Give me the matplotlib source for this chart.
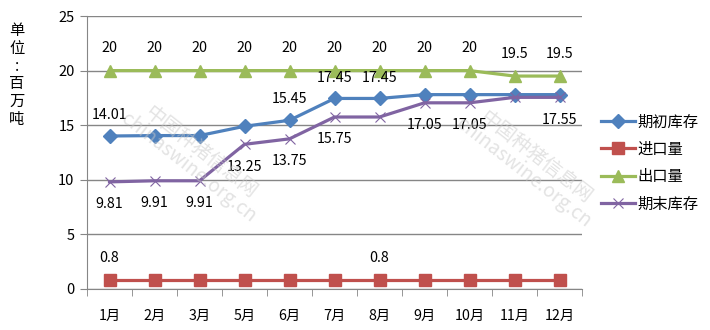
import numpy as np
import matplotlib.pyplot as plt
from matplotlib.ticker import FixedLocator

plt.rcParams['font.family'] = ['Noto Sans CJK SC', 'DejaVu Sans']

months = ['1月', '2月', '3月', '5月', '6月', '7月', '8月', '9月', '10月', '11月', '12月']
opening = [14.01, 14.05, 14.05, 14.9, 15.45, 17.45, 17.45, 17.8, 17.8, 17.8, 17.8]
imports = [0.8] * 11
exports = [20, 20, 20, 20, 20, 20, 20, 20, 20, 19.5, 19.5]
closing = [9.81, 9.91, 9.91, 13.25, 13.75, 15.75, 15.75, 17.05, 17.05, 17.55, 17.55]

# which points carry a value label
opening_lbl = [0, 4, 5, 6]
imports_lbl = [0, 6]
exports_lbl = list(range(11))
closing_lbl = [0, 1, 2, 3, 4, 5, 7, 8, 10]

fig = plt.figure(figsize=(7.1, 3.3), dpi=100)
ax = fig.add_axes([87 / 710, 41 / 330, 495 / 710, 273 / 330])

x = np.arange(len(months))
l1, = ax.plot(x, opening, color='#4F81BD', lw=2.3, marker='D', ms=7, label='期初库存', zorder=4)
l2, = ax.plot(x, imports, color='#C0504D', lw=2.3, marker='s', ms=8.5, label='进口量', zorder=4)
l3, = ax.plot(x, exports, color='#9BBB59', lw=2.3, marker='^', ms=8.5, label='出口量', zorder=4)
l4, = ax.plot(x, closing, color='#8064A2', lw=2.3, marker='x', ms=7, mew=0.8,
              mec='#8064A2', label='期末库存', zorder=4)


def label(vals, idx, dy):
    for i in idx:
        ax.annotate(f'{vals[i]:g}', (x[i], vals[i]), xytext=(0, dy), textcoords='offset points',
                    ha='center', va='center', fontsize=10.3, color='black', zorder=5)


label(opening, opening_lbl, 15)
label(imports, imports_lbl, 16)
label(exports, exports_lbl, 16)
label(closing, closing_lbl, -16)

ax.set_xlim(-0.5, len(months) - 0.5)
ax.set_ylim(0, 25)
ax.set_yticks(range(0, 26, 5))
ax.yaxis.grid(True, color='#868686', lw=1)
ax.set_axisbelow(True)
ax.set_xticks(x)
ax.set_xticklabels(months, fontsize=10.3)
ax.xaxis.set_minor_locator(FixedLocator(np.arange(-0.5, len(months), 1)))
ax.tick_params(axis='x', which='major', length=0, pad=14)
ax.tick_params(axis='x', which='minor', length=5, color='#868686', direction='out')
ax.tick_params(axis='y', length=5, color='#868686', labelsize=10.5, pad=4)
for s in ['top', 'right']:
    ax.spines[s].set_visible(False)
for s in ['left', 'bottom']:
    ax.spines[s].set_color('#868686')

fig.text(17 / 710, 1 - 75 / 330, '单\n位\n:\n百\n万\n吨', ha='center', va='center',
         fontsize=11, linespacing=1.05)

ax.legend(handles=[l1, l2, l3, l4], loc='center left', bbox_to_anchor=(595 / 710, 1 - 163 / 330),
          bbox_transform=fig.transFigure, frameon=False, fontsize=11, handlelength=2.2,
          handletextpad=0.2, labelspacing=0.68, borderaxespad=0)

# faint site watermark
for wx, wy in [(195, 160), (530, 165)]:
    fig.text(wx / 710, 1 - wy / 330, '中国种猪信息网\nchinaswine.org.cn', rotation=-38,
             ha='center', va='center', fontsize=14, color='#c8c8c8', alpha=0.5,
             linespacing=0.9, zorder=0)

fig.savefig('out.png', dpi=100)
